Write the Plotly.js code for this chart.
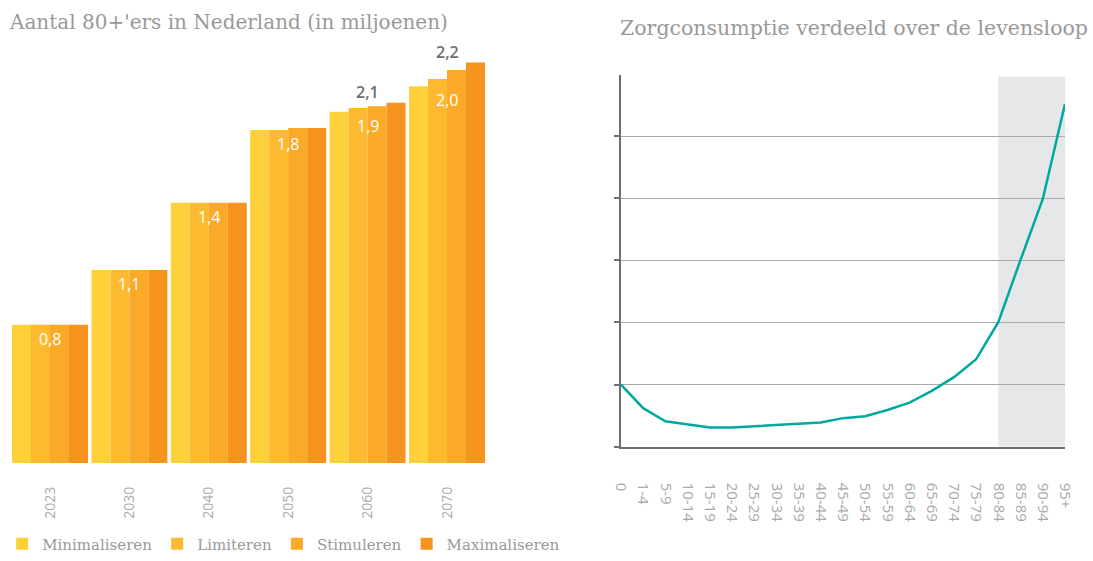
<!DOCTYPE html>
<html>
<head>
<meta charset="utf-8">
<script src="https://cdn.plot.ly/plotly-3.0.1.min.js"></script>
<style>
  html, body { margin: 0; padding: 0; background: #fff; }
  #chart { width: 1093px; height: 561px; }
</style>
</head>
<body>
<div id="chart"></div>
<script>
// links: aantal 80+'ers (miljoenen) per scenario
const jaren = ["2023", "2030", "2040", "2050", "2060", "2070"];
const minimaliseren = [0.76, 1.06, 1.43, 1.83, 1.93, 2.07];
const limiteren     = [0.76, 1.06, 1.43, 1.83, 1.95, 2.11];
const stimuleren    = [0.76, 1.06, 1.43, 1.84, 1.96, 2.16];
const maximaliseren = [0.76, 1.06, 1.43, 1.84, 1.98, 2.20];
const labelsBinnen = ["0,8", "1,1", "1,4", "1,8", "1,9", "2,0"];
const labelsBoven  = ["", "", "", "", "2,1", "2,2"];

// rechts: zorgconsumptie per leeftijdsgroep
const leeftijd = ["0", "1-4", "5-9", "10-14", "15-19", "20-24", "25-29", "30-34", "35-39",
  "40-44", "45-49", "50-54", "55-59", "60-64", "65-69", "70-74", "75-79", "80-84",
  "85-89", "90-94", "95+"];
const zorg = [1.0, 0.62, 0.41, 0.355, 0.31, 0.31, 0.33, 0.345, 0.365, 0.39, 0.46, 0.49,
  0.59, 0.71, 0.90, 1.12, 1.41, 2.01, 3.01, 3.99, 5.52];

const W = 1093, H = 561;
const px = (x) => x / W;
const py = (y) => (H - y) / H;

const slab = "DejaVu Serif, serif";
const sans = "Open Sans, sans-serif";
const kleuren = ["#FED13B", "#FDBA31", "#FAA929", "#F7941F"];
const namen = ["Minimaliseren", "Limiteren", "Stimuleren", "Maximaliseren"];
const reeksen = [minimaliseren, limiteren, stimuleren, maximaliseren];

const traces = reeksen.map((r, i) => ({
  type: "bar", x: jaren, y: r, name: namen[i],
  marker: { color: kleuren[i], line: { width: 0 } },
  xaxis: "x", yaxis: "y", hoverinfo: "skip",
}));

traces.push({
  type: "scatter", mode: "lines", x: leeftijd, y: zorg,
  line: { color: "#00A99D", width: 2.5 },
  xaxis: "x2", yaxis: "y2", showlegend: false, hoverinfo: "skip",
});

const annotations = [];
jaren.forEach((j, i) => {
  const laag = Math.min(...reeksen.map((r) => r[i]));
  const hoog = Math.max(...reeksen.map((r) => r[i]));
  annotations.push({
    xref: "x", yref: "y", x: i, y: laag, yshift: -14, showarrow: false,
    text: labelsBinnen[i], font: { family: sans, size: 16, color: "#ffffff" },
  });
  if (labelsBoven[i]) {
    annotations.push({
      xref: "x", yref: "y", x: i, y: hoog, yshift: 11, showarrow: false,
      text: labelsBoven[i], font: { family: sans, size: 16, color: "#6D6E71", weight: 600 },
    });
  }
});

annotations.push({
  xref: "paper", yref: "paper", x: px(7), y: py(22), xanchor: "left", yanchor: "middle",
  showarrow: false, text: "Aantal 80+'ers in Nederland (in miljoenen)",
  font: { family: slab, size: 20, color: "#999999" },
});
annotations.push({
  xref: "paper", yref: "paper", x: px(1090), y: py(28), xanchor: "right", yanchor: "middle",
  showarrow: false, text: "Zorgconsumptie verdeeld over de levensloop",
  font: { family: slab, size: 20.5, color: "#999999" },
});

const layout = {
  width: W, height: H,
  margin: { l: 0, r: 0, t: 0, b: 0 },
  paper_bgcolor: "#ffffff", plot_bgcolor: "rgba(0,0,0,0)",
  barmode: "group", bargap: 0.043, bargroupgap: 0,
  showlegend: true,
  legend: {
    orientation: "h", x: 0.002, y: 0.001, xanchor: "left", yanchor: "bottom",
    font: { family: slab, size: 15, color: "#999999" },
    itemclick: false, itemdoubleclick: false,
  },
  xaxis: {
    domain: [px(10.3), px(486.7)], type: "category", categoryarray: jaren,
    range: [-0.5, 5.5], anchor: "y",
    showline: false, showgrid: false, zeroline: false, ticks: "",
    tickangle: -90, ticklabelstandoff: 20,
    tickfont: { family: sans, size: 14, color: "#A7A9AC" },
  },
  yaxis: {
    domain: [py(463), py(8)], range: [0, 2.5], anchor: "x",
    showticklabels: false, showline: false, ticks: "", showgrid: false, zeroline: false,
  },
  xaxis2: {
    domain: [px(621), px(1065)], anchor: "y2", type: "category",
    range: [0, 20], showgrid: false, zeroline: false,
    showline: true, linecolor: "#6D6E71", linewidth: 2, ticks: "",
    tickangle: 90, ticklabelstandoff: 31,
    tickfont: { family: sans, size: 15, color: "#A7A9AC" },
  },
  yaxis2: {
    domain: [py(446.7), py(74.7)], anchor: "x2", range: [0, 5.99],
    dtick: 1, tick0: 0, showticklabels: false,
    ticks: "outside", ticklen: 5, tickwidth: 2, tickcolor: "#6D6E71",
    showline: true, linecolor: "#6D6E71", linewidth: 2,
    showgrid: true, gridcolor: "#A7A9AC", gridwidth: 1, zeroline: false,
  },
  shapes: [{
    type: "rect", xref: "x2", yref: "y2", x0: 17, x1: 20, y0: 0, y1: 5.96,
    fillcolor: "#E6E7E8", line: { width: 0 }, layer: "below",
  }],
  annotations: annotations,
};

Plotly.newPlot("chart", traces, layout, { staticPlot: true, displayModeBar: false });
</script>
</body>
</html>
